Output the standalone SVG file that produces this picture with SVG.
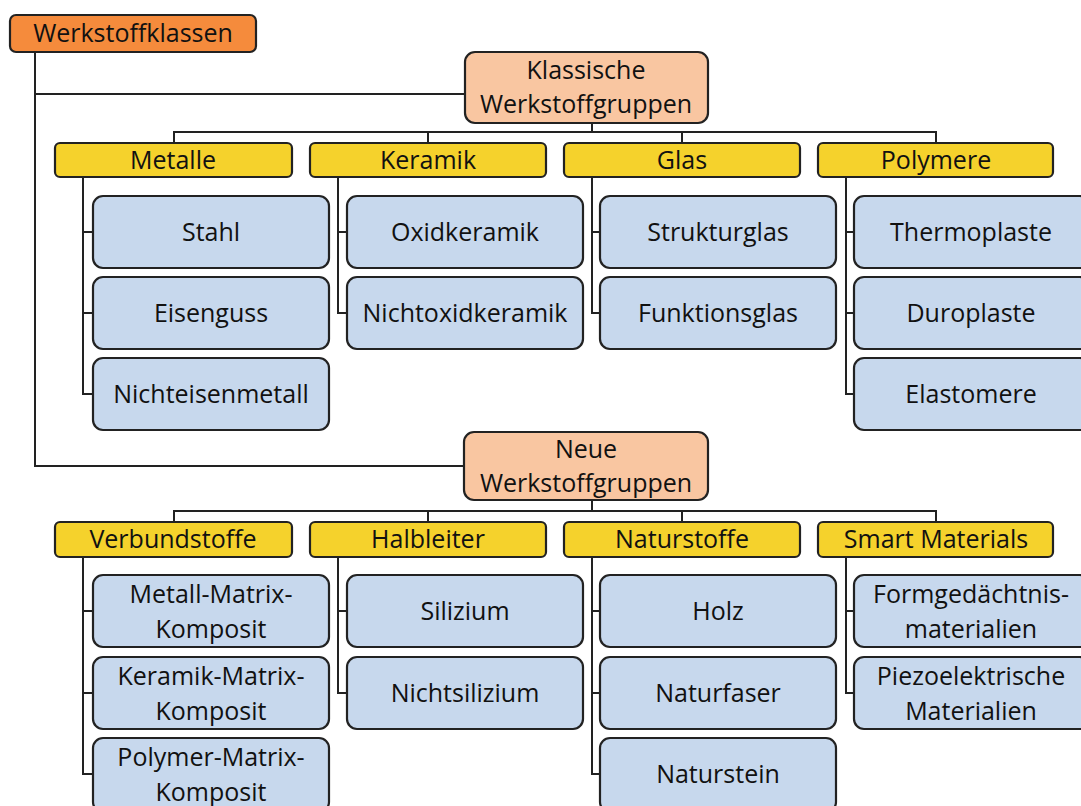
<svg xmlns="http://www.w3.org/2000/svg" width="1081" height="806" viewBox="0 0 1081 806">
<style>
.t{font-family:"Open Sans","Liberation Sans",sans-serif;font-size:25px;fill:#111;text-anchor:middle}
.root{fill:#F58B3C;stroke:#222;stroke-width:2.2}
.grp{fill:#F9C6A1;stroke:#222;stroke-width:2.2}
.hd{fill:#F5D22C;stroke:#222;stroke-width:2.2}
.bx{fill:#C7D8ED;stroke:#222;stroke-width:2.2}
.ln{fill:none;stroke:#222;stroke-width:2}
</style>
<rect width="1081" height="806" fill="#fff"/>
<g id="connectors" class="ln">
<path d="M35 52 V466 H464"/>
<path d="M35 94 H465"/>
<path d="M592 123 V132 M174 142 V132 H936 V142 M428 132 V142 M682 132 V142"/>
<path d="M592 500 V511 M174 522 V511 H936 V522 M428 511 V522 M682 511 V522"/>
<path d="M83 177 V394 H93 M83 232 H93 M83 313 H93"/>
<path d="M338 177 V313 H347 M338 232 H347"/>
<path d="M592 177 V313 H600 M592 232 H600"/>
<path d="M846 177 V394 H854 M846 232 H854 M846 313 H854"/>
<path d="M83 557 V774 H93 M83 611 H93 M83 693 H93"/>
<path d="M338 557 V693 H347 M338 611 H347"/>
<path d="M592 557 V774 H600 M592 611 H600 M592 693 H600"/>
<path d="M846 557 V693 H854 M846 611 H854"/>
</g>
<g id="werkstoffklassen"><rect class="root" x="10" y="15" width="246" height="37" rx="6"/><text class="t" x="133" y="42">Werkstoffklassen</text></g>
<g id="klassisch"><rect class="grp" x="465" y="52" width="243" height="71" rx="10"/><text class="t" x="586" y="79">Klassische</text><text class="t" x="586" y="113">Werkstoffgruppen</text></g>
<g id="neu"><rect class="grp" x="464" y="432" width="244" height="68" rx="10"/><text class="t" x="586" y="458">Neue</text><text class="t" x="586" y="492">Werkstoffgruppen</text></g>

<g id="metalle"><rect class="hd" x="55" y="143" width="237" height="34" rx="5"/><text class="t" x="173" y="169">Metalle</text></g>
<g id="keramik"><rect class="hd" x="310" y="143" width="236" height="34" rx="5"/><text class="t" x="428" y="169">Keramik</text></g>
<g id="glas"><rect class="hd" x="564" y="143" width="236" height="34" rx="5"/><text class="t" x="682" y="169">Glas</text></g>
<g id="polymere"><rect class="hd" x="818" y="143" width="235" height="34" rx="5"/><text class="t" x="936" y="169">Polymere</text></g>

<g id="stahl"><rect class="bx" x="93" y="196" width="236" height="72" rx="10"/><text class="t" x="211" y="241">Stahl</text></g>
<g id="eisenguss"><rect class="bx" x="93" y="277" width="236" height="72" rx="10"/><text class="t" x="211" y="322">Eisenguss</text></g>
<g id="nichteisenmetall"><rect class="bx" x="93" y="358" width="236" height="72" rx="10"/><text class="t" x="211" y="403">Nichteisenmetall</text></g>
<g id="oxidkeramik"><rect class="bx" x="347" y="196" width="236" height="72" rx="10"/><text class="t" x="465" y="241">Oxidkeramik</text></g>
<g id="nichtoxidkeramik"><rect class="bx" x="347" y="277" width="236" height="72" rx="10"/><text class="t" x="465" y="322">Nichtoxidkeramik</text></g>
<g id="strukturglas"><rect class="bx" x="600" y="196" width="236" height="72" rx="10"/><text class="t" x="718" y="241">Strukturglas</text></g>
<g id="funktionsglas"><rect class="bx" x="600" y="277" width="236" height="72" rx="10"/><text class="t" x="718" y="322">Funktionsglas</text></g>
<g id="thermoplaste"><rect class="bx" x="854" y="196" width="236" height="72" rx="10"/><text class="t" x="971" y="241">Thermoplaste</text></g>
<g id="duroplaste"><rect class="bx" x="854" y="277" width="236" height="72" rx="10"/><text class="t" x="971" y="322">Duroplaste</text></g>
<g id="elastomere"><rect class="bx" x="854" y="358" width="236" height="72" rx="10"/><text class="t" x="971" y="403">Elastomere</text></g>

<g id="verbundstoffe"><rect class="hd" x="55" y="522" width="237" height="35" rx="5"/><text class="t" x="173" y="548">Verbundstoffe</text></g>
<g id="halbleiter"><rect class="hd" x="310" y="522" width="236" height="35" rx="5"/><text class="t" x="428" y="548">Halbleiter</text></g>
<g id="naturstoffe"><rect class="hd" x="564" y="522" width="236" height="35" rx="5"/><text class="t" x="682" y="548">Naturstoffe</text></g>
<g id="smart"><rect class="hd" x="818" y="522" width="235" height="35" rx="5"/><text class="t" x="936" y="548">Smart Materials</text></g>

<g id="mmk"><rect class="bx" x="93" y="575" width="236" height="72" rx="10"/><text class="t" x="211" y="603">Metall-Matrix-</text><text class="t" x="211" y="638">Komposit</text></g>
<g id="kmk"><rect class="bx" x="93" y="657" width="236" height="72" rx="10"/><text class="t" x="211" y="685">Keramik-Matrix-</text><text class="t" x="211" y="720">Komposit</text></g>
<g id="pmk"><rect class="bx" x="93" y="738" width="236" height="74" rx="10"/><text class="t" x="211" y="766">Polymer-Matrix-</text><text class="t" x="211" y="801">Komposit</text></g>
<g id="silizium"><rect class="bx" x="347" y="575" width="236" height="72" rx="10"/><text class="t" x="465" y="620">Silizium</text></g>
<g id="nichtsilizium"><rect class="bx" x="347" y="657" width="236" height="72" rx="10"/><text class="t" x="465" y="702">Nichtsilizium</text></g>
<g id="holz"><rect class="bx" x="600" y="575" width="236" height="72" rx="10"/><text class="t" x="718" y="620">Holz</text></g>
<g id="naturfaser"><rect class="bx" x="600" y="657" width="236" height="72" rx="10"/><text class="t" x="718" y="702">Naturfaser</text></g>
<g id="naturstein"><rect class="bx" x="600" y="738" width="236" height="74" rx="10"/><text class="t" x="718" y="783">Naturstein</text></g>
<g id="formgedaechtnis"><rect class="bx" x="854" y="575" width="236" height="72" rx="10"/><text class="t" x="971" y="603">Formgedächtnis-</text><text class="t" x="971" y="638">materialien</text></g>
<g id="piezo"><rect class="bx" x="854" y="657" width="236" height="72" rx="10"/><text class="t" x="971" y="685">Piezoelektrische</text><text class="t" x="971" y="720">Materialien</text></g>
</svg>
